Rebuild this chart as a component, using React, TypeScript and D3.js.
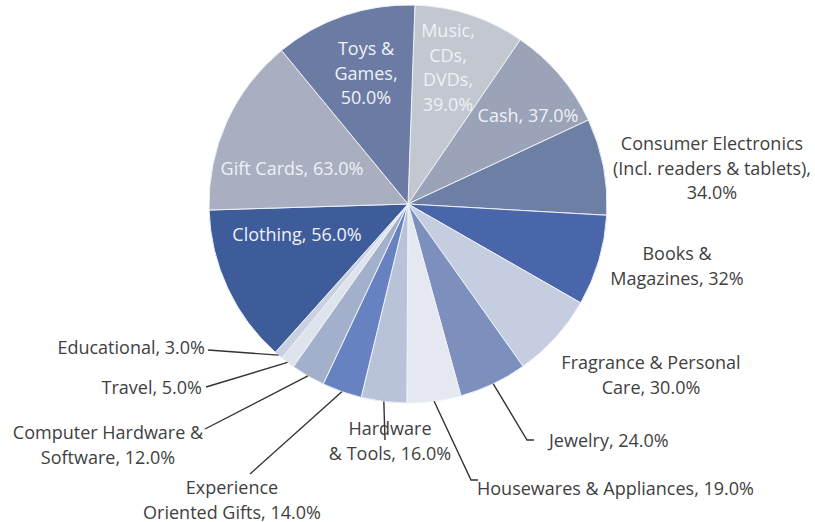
import React from "react";
import * as d3 from "d3";

const categories = [
  "Music, CDs, DVDs",
  "Cash",
  "Consumer Electronics (Incl. readers & tablets)",
  "Books & Magazines",
  "Fragrance & Personal Care",
  "Jewelry",
  "Housewares & Appliances",
  "Hardware & Tools",
  "Experience Oriented Gifts",
  "Computer Hardware & Software",
  "Travel",
  "Educational",
  "Clothing",
  "Gift Cards",
  "Toys & Games",
];
const values = [39, 37, 34, 32, 30, 24, 19, 16, 14, 12, 5, 3, 56, 63, 50];
const labelLines = [
  ["Music,", "CDs,", "DVDs,", "39.0%"],
  ["Cash, 37.0%"],
  ["Consumer Electronics", "(Incl. readers & tablets),", "34.0%"],
  ["Books &", "Magazines, 32%"],
  ["Fragrance & Personal", "Care, 30.0%"],
  ["Jewelry, 24.0%"],
  ["Housewares & Appliances, 19.0%"],
  ["Hardware", "& Tools, 16.0%"],
  ["Experience", "Oriented Gifts, 14.0%"],
  ["Computer Hardware &", "Software, 12.0%"],
  ["Travel, 5.0%"],
  ["Educational, 3.0%"],
  ["Clothing, 56.0%"],
  ["Gift Cards, 63.0%"],
  ["Toys &", "Games,", "50.0%"],
];
const colors = [
  "#c3c7d0", "#9aa3b8", "#6e7fa5", "#4a66ab", "#c5cde0",
  "#7d90bd", "#e5e8f0", "#b8c2d9", "#6682c0", "#a3b0cc",
  "#dfe3ec", "#c9d0e1", "#3e5c9a", "#a9afc0", "#6b7ba3",
];

// label layout: [x, y of first line, anchor, inside?, leader end x, leader end y]
const labelLayout: [number, number, string, boolean, number | null, number | null][] = [
  [448, 30, "middle", true, null, null],
  [528, 115, "middle", true, null, null],
  [712, 143, "middle", false, null, null],
  [677, 253, "middle", false, null, null],
  [651, 362, "middle", false, null, null],
  [549, 440, "start", false, 527, 440],
  [477, 488, "start", false, 471, 480],
  [390, 428, "middle", false, 385, 440],
  [232, 487, "middle", false, 250, 474],
  [108, 432, "middle", false, 205, 429],
  [202, 387, "end", false, 206, 387],
  [205, 347, "end", false, 208, 350],
  [297, 234, "middle", true, null, null],
  [292, 168, "middle", true, null, null],
  [366, 48, "middle", true, null, null],
];

const W = 815;
const H = 522;
const cx = 408;
const cy = 204;
const R = 199;
const rot = (2 * Math.PI) / 180;

export default function App() {
  const pie = d3
    .pie<number>()
    .sort(null)
    .value((d) => d)
    .startAngle(rot)
    .endAngle(2 * Math.PI + rot);
  const arcs = pie(values);
  const arc = d3.arc<d3.PieArcDatum<number>>().innerRadius(0).outerRadius(R);
  const lineH = 24.5;
  return (
    <svg
      width={W}
      height={H}
      style={{ position: "absolute", left: 0, top: 0, background: "#fff" }}
      fontFamily="'Open Sans', sans-serif"
    >
      <g transform={`translate(${cx},${cy})`}>
        {arcs.map((a, i) => (
          <path
            key={categories[i]}
            d={arc(a) || ""}
            fill={colors[i]}
            stroke="#eef1f6"
            strokeWidth={1}
          />
        ))}
      </g>
      {arcs.map((a, i) => {
        const [lx, ly, anchor, inside, ex, ey] = labelLayout[i];
        if (inside || ex === null || ey === null) return null;
        const mid = (a.startAngle + a.endAngle) / 2;
        const sx = cx + R * Math.sin(mid);
        const sy = cy - R * Math.cos(mid);
        let pts = `${sx},${sy} ${ex},${ey}`;
        if (anchor === "start") pts += ` ${ex + 7},${ey}`;
        return (
          <polyline
            key={"l" + i}
            points={pts}
            fill="none"
            stroke="#333"
            strokeWidth={1.4}
          />
        );
      })}
      {labelLines.map((lines, i) => {
        const [lx, ly, anchor, inside] = labelLayout[i];
        return (
          <text
            key={"t" + i}
            x={lx}
            y={ly}
            textAnchor={anchor}
            fontSize={18}
            fill={inside ? "#eef1f7" : "#3f3f3f"}
            dominantBaseline="central"
          >
            {lines.map((ln, j) => (
              <tspan key={j} x={lx} y={ly + j * lineH}>
                {ln}
              </tspan>
            ))}
          </text>
        );
      })}
    </svg>
  );
}
